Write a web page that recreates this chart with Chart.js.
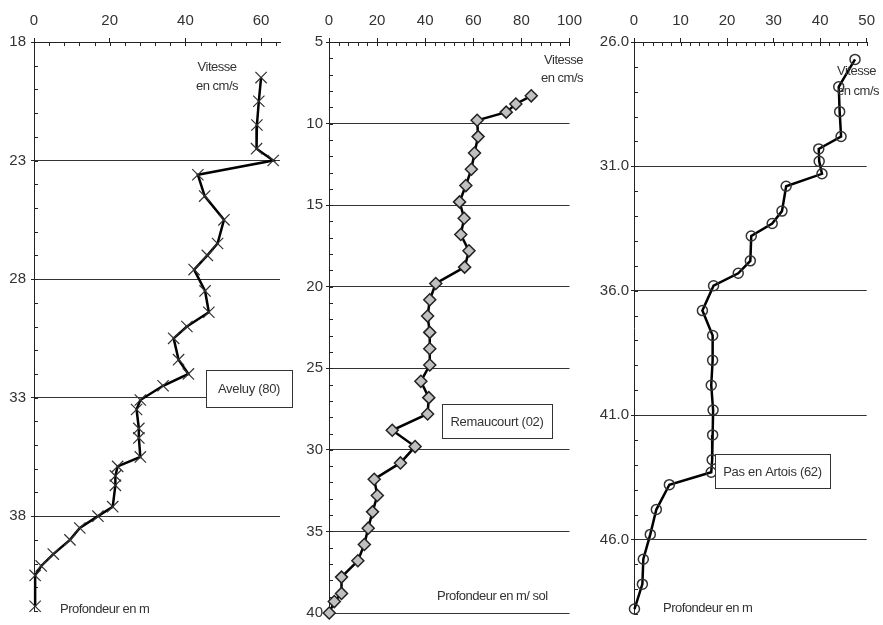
<!DOCTYPE html>
<html>
<head>
<meta charset="utf-8">
<script src="https://cdn.jsdelivr.net/npm/chart.js@4.4.0/dist/chart.umd.min.js"></script>
<style>
  body { margin: 0; background: #fff; }
  #wrap { position: relative; width: 883px; height: 625px; overflow: hidden; }
  canvas { position: absolute; top: 0; }
</style>
</head>
<body>
<div id="wrap">
  <canvas id="c1" width="300" height="625" style="left:0px"></canvas>
  <canvas id="c2" width="300" height="625" style="left:290px"></canvas>
  <canvas id="c3" width="293" height="625" style="left:590px"></canvas>
</div>
<script>
// ==============================
// Données lues sur les profils
// ==============================

// Aveluy (80)
const aveluyDepth = [19.5, 20.5, 21.5, 22.5, 23.0, 23.6, 24.5, 25.5, 26.5, 27.0, 27.6, 28.5, 29.4, 30.0, 30.5, 31.4, 32.0, 32.5, 33.1, 33.5, 34.3, 34.7, 35.5, 35.9, 36.3, 36.7, 37.6, 38.0, 38.5, 39.0, 39.6, 40.1, 40.5, 41.8];
const aveluySpeed = [60.0, 59.4, 58.9, 58.8, 63.2, 43.3, 45.1, 50.2, 48.5, 45.8, 42.3, 45.2, 46.2, 40.4, 36.9, 38.2, 40.8, 34.1, 28.1, 27.1, 27.7, 27.7, 28.1, 22.1, 21.5, 21.5, 20.8, 16.9, 12.1, 9.5, 5.1, 1.9, 0.3, 0.3];
const aveluyDepthTicks = [18, 23, 28, 33, 38];
const aveluySpeedTicks = [0, 20, 40, 60];

// Remaucourt (02)
const remaucourtDepth = [8.3, 8.8, 9.3, 9.8, 10.8, 11.8, 12.8, 13.8, 14.8, 15.8, 16.8, 17.8, 18.8, 19.8, 20.8, 21.8, 22.8, 23.8, 24.8, 25.8, 26.8, 27.8, 28.8, 29.8, 30.8, 31.8, 32.8, 33.8, 34.8, 35.8, 36.8, 37.8, 38.8, 39.3, 40.0];
const remaucourtSpeed = [84.1, 77.7, 73.7, 61.6, 62.0, 60.5, 59.2, 56.9, 54.3, 56.2, 54.8, 58.2, 56.4, 44.4, 41.9, 41.0, 41.9, 41.9, 41.9, 38.2, 41.5, 41.0, 26.3, 35.8, 29.7, 18.8, 20.1, 18.1, 16.3, 14.7, 12.0, 5.2, 5.2, 2.2, 0.1];
const remaucourtDepthTicks = [5, 10, 15, 20, 25, 30, 35, 40];
const remaucourtSpeedTicks = [0, 20, 40, 60, 80, 100];

// Pas en Artois (62)
const artoisDepth = [26.7, 27.8, 28.8, 29.8, 30.3, 30.8, 31.3, 31.8, 32.8, 33.3, 33.8, 34.8, 35.3, 35.8, 36.8, 37.8, 38.8, 39.8, 40.8, 41.8, 42.8, 43.3, 43.8, 44.8, 45.8, 46.8, 47.8, 48.8];
const artoisSpeed = [47.5, 44.0, 44.2, 44.5, 39.7, 39.8, 40.4, 32.7, 31.8, 29.7, 25.2, 25.0, 22.4, 17.1, 14.7, 16.9, 16.9, 16.6, 17.0, 16.9, 16.8, 16.6, 7.6, 4.8, 3.5, 2.0, 1.8, 0.1];
const artoisDepthTicks = [26, 31, 36, 41, 46];
const artoisSpeedTicks = [0, 10, 20, 30, 40, 50];

Chart.defaults.font.family = "'Liberation Sans', Arial, sans-serif";
Chart.defaults.font.size = 15;
Chart.defaults.color = "#333";

// ==============================
// Petites graduations intérieures
// ==============================
function minorTicks(xStep, yStep) {
  return {
    id: "minorTicks",
    beforeDatasetsDraw(chart) {
      const { ctx, chartArea, scales: { x, y } } = chart;
      ctx.save();
      ctx.strokeStyle = "#222";
      ctx.lineWidth = 1;
      ctx.beginPath();
      for (let v = x.min; v <= x.max + 1e-6; v += xStep) {
        const px = Math.round(x.getPixelForValue(v)) + 0.5;
        ctx.moveTo(px, chartArea.top);
        ctx.lineTo(px, chartArea.top + 4);
      }
      for (let v = y.min; v <= y.max + 1e-6; v += yStep) {
        const py = Math.round(y.getPixelForValue(v)) + 0.5;
        ctx.moveTo(chartArea.left, py);
        ctx.lineTo(chartArea.left + 4, py);
      }
      ctx.stroke();
      ctx.restore();
    }
  };
}

// ==============================
// Textes et cartouche du site
// ==============================
function notes(texts, box) {
  return {
    id: "notes",
    afterDatasetsDraw(chart) {
      const ctx = chart.ctx;
      ctx.save();
      ctx.font = "13px 'Liberation Sans', Arial, sans-serif";
      ctx.letterSpacing = "-0.5px";
      ctx.fillStyle = "#333";
      ctx.textBaseline = "middle";
      texts.forEach(t => {
        ctx.textAlign = t.align;
        ctx.fillText(t.text, t.x, t.y);
      });
      ctx.fillStyle = "#fff";
      ctx.strokeStyle = "#333";
      ctx.lineWidth = 1;
      ctx.fillRect(box.x, box.y, box.w, box.h);
      ctx.strokeRect(box.x + 0.5, box.y + 0.5, box.w, box.h);
      ctx.fillStyle = "#333";
      ctx.textAlign = "center";
      ctx.letterSpacing = "-0.3px";
      ctx.fillText(box.text, box.x + box.w / 2, box.y + box.h / 2 + 1);
      ctx.restore();
    }
  };
}

function makeProfile(id, o) {
  const points = o.depth.map((d, i) => ({ x: o.speed[i], y: d }));
  return new Chart(document.getElementById(id), {
    type: "scatter",
    data: {
      datasets: [{
        data: points,
        showLine: true,
        borderColor: "#000",
        borderWidth: 2.5,
        pointStyle: o.pointStyle,
        pointRadius: o.pointRadius,
        pointBorderColor: o.pointBorder,
        pointBorderWidth: o.pointBorderWidth,
        pointBackgroundColor: o.pointFill,
        clip: false
      }]
    },
    options: {
      responsive: false,
      devicePixelRatio: 1,
      animation: false,
      layout: { padding: { left: 0, top: 0, right: o.padRight, bottom: o.padBottom } },
      plugins: { legend: { display: false }, tooltip: { enabled: false } },
      scales: {
        x: {
          type: "linear",
          position: "top",
          min: 0,
          max: o.xMax,
          afterBuildTicks: s => { s.ticks = o.xTicks.map(v => ({ value: v })); },
          afterFit: s => { s.height = 42; },
          ticks: { padding: 8, maxRotation: 0, color: "#333" },
          grid: { drawOnChartArea: false, tickLength: 4, tickColor: "#222" },
          border: { color: "#222", width: 1 }
        },
        y: {
          type: "linear",
          reverse: true,
          min: o.yMin,
          max: o.yMax,
          afterBuildTicks: s => { s.ticks = o.yTicks.map(v => ({ value: v })); },
          afterFit: s => { s.width = o.yWidth; },
          ticks: { padding: o.yPad, color: "#333", callback: o.yFormat },
          grid: {
            color: c => (c.tick && c.tick.value === o.yMin ? "rgba(0,0,0,0)" : "#333"),
            lineWidth: 1,
            tickLength: 3,
            tickColor: "#222"
          },
          border: { color: "#222", width: 1 }
        }
      }
    },
    plugins: [minorTicks(o.xMinor, 1), notes(o.texts, o.box)]
  });
}

makeProfile("c1", {
  depth: aveluyDepth, speed: aveluySpeed,
  xMax: 65, xTicks: aveluySpeedTicks, xMinor: 4,
  yMin: 18, yMax: 42, yTicks: aveluyDepthTicks, yWidth: 34, yPad: 5,
  yFormat: v => String(v),
  padRight: 20, padBottom: 7,
  pointStyle: "crossRot", pointRadius: 8, pointBorder: "#333", pointBorderWidth: 1.2, pointFill: "#333",
  texts: [
    { text: "Vitesse", x: 217, y: 67, align: "center" },
    { text: "en cm/s", x: 217, y: 86, align: "center" },
    { text: "Profondeur en m", x: 60, y: 609, align: "left" }
  ],
  box: { x: 206, y: 370, w: 86, h: 37, text: "Aveluy (80)" }
});

makeProfile("c2", {
  depth: remaucourtDepth, speed: remaucourtSpeed,
  xMax: 100, xTicks: remaucourtSpeedTicks, xMinor: 4,
  yMin: 5, yMax: 40, yTicks: remaucourtDepthTicks, yWidth: 39, yPad: 3,
  yFormat: v => String(v),
  padRight: 16, padBottom: 7,
  pointStyle: "rectRot", pointRadius: 6, pointBorder: "#222", pointBorderWidth: 1.5, pointFill: "#c0c0c0",
  texts: [
    { text: "Vitesse", x: 293, y: 60, align: "right" },
    { text: "en cm/s", x: 293, y: 78, align: "right" },
    { text: "Profondeur en m/ sol", x: 147, y: 596, align: "left" }
  ],
  box: { x: 152, y: 404, w: 110, h: 34, text: "Remaucourt (02)" }
});

makeProfile("c3", {
  depth: artoisDepth, speed: artoisSpeed,
  xMax: 50, xTicks: artoisSpeedTicks, xMinor: 2,
  yMin: 26, yMax: 49, yTicks: artoisDepthTicks, yWidth: 44, yPad: 2,
  yFormat: v => v.toFixed(1),
  padRight: 10, padBottom: 8,
  pointStyle: "circle", pointRadius: 5, pointBorder: "#333", pointBorderWidth: 1.5, pointFill: "rgba(255,255,255,0)",
  texts: [
    { text: "Vitesse", x: 247, y: 71, align: "left" },
    { text: "en cm/s", x: 247, y: 91, align: "left" },
    { text: "Profondeur en m", x: 73, y: 608, align: "left" }
  ],
  box: { x: 125, y: 454, w: 115, h: 34, text: "Pas en Artois (62)" }
});
</script>
</body>
</html>
